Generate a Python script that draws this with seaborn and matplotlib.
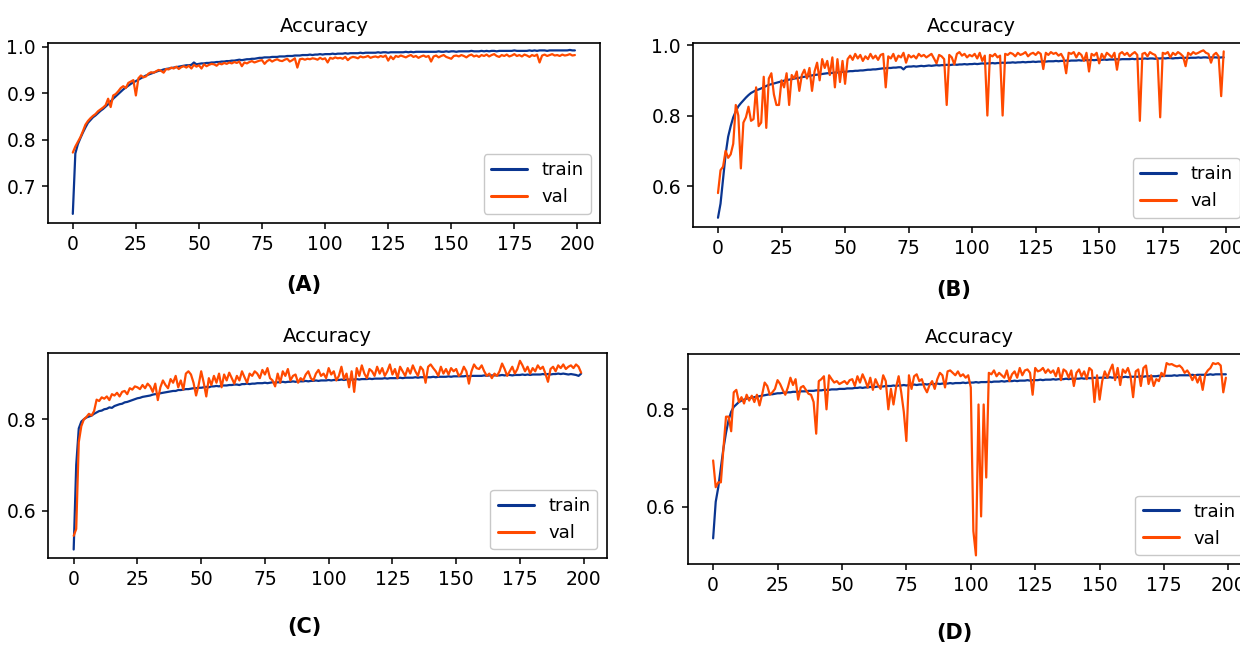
import numpy as np
import pandas as pd
import matplotlib
matplotlib.use("Agg")
import matplotlib.pyplot as plt
import seaborn as sns

# ---------------- data ----------------
epochs = list(range(200))

a_train = [
    0.640, 0.770, 0.790, 0.803, 0.815, 0.826, 0.836, 0.842, 0.848, 0.852,
    0.857, 0.862, 0.866, 0.871, 0.876, 0.882, 0.888, 0.893, 0.898, 0.903,
    0.908, 0.912, 0.916, 0.920, 0.923, 0.926, 0.929, 0.932, 0.935, 0.938,
    0.940, 0.942, 0.944, 0.946, 0.948, 0.949, 0.951, 0.952, 0.953, 0.954,
    0.955, 0.956, 0.957, 0.958, 0.959, 0.960, 0.960, 0.961, 0.966, 0.962,
    0.963, 0.964, 0.964, 0.965, 0.965, 0.966, 0.966, 0.967, 0.967, 0.968,
    0.968, 0.969, 0.969, 0.970, 0.970, 0.971, 0.972, 0.971, 0.972, 0.973,
    0.973, 0.974, 0.974, 0.975, 0.976, 0.976, 0.977, 0.977, 0.977, 0.978,
    0.978, 0.978, 0.979, 0.979, 0.979, 0.980, 0.980, 0.980, 0.981, 0.981,
    0.981, 0.982, 0.982, 0.982, 0.983, 0.982, 0.983, 0.983, 0.984, 0.983,
    0.984, 0.984, 0.984, 0.985, 0.984, 0.985, 0.985, 0.985, 0.986, 0.985,
    0.986, 0.986, 0.986, 0.986, 0.987, 0.986, 0.987, 0.987, 0.987, 0.987,
    0.987, 0.988, 0.987, 0.988, 0.988, 0.987, 0.988, 0.988, 0.988, 0.988,
    0.988, 0.988, 0.989, 0.988, 0.989, 0.988, 0.989, 0.989, 0.989, 0.989,
    0.989, 0.989, 0.989, 0.989, 0.989, 0.990, 0.989, 0.989, 0.990, 0.989,
    0.990, 0.990, 0.989, 0.990, 0.990, 0.990, 0.990, 0.990, 0.991, 0.990,
    0.990, 0.990, 0.991, 0.990, 0.991, 0.990, 0.991, 0.991, 0.990, 0.991,
    0.991, 0.991, 0.991, 0.991, 0.991, 0.992, 0.991, 0.991, 0.991, 0.991,
    0.991, 0.992, 0.991, 0.992, 0.991, 0.992, 0.992, 0.992, 0.991, 0.992,
    0.992, 0.992, 0.992, 0.992, 0.992, 0.992, 0.992, 0.993, 0.992, 0.992,
]
a_val = [
    0.772, 0.785, 0.795, 0.805, 0.818, 0.832, 0.840, 0.846, 0.851, 0.855,
    0.861, 0.865, 0.869, 0.874, 0.888, 0.870, 0.895, 0.898, 0.904, 0.911,
    0.915, 0.911, 0.922, 0.925, 0.928, 0.895, 0.932, 0.938, 0.934, 0.936,
    0.942, 0.945, 0.944, 0.947, 0.950, 0.948, 0.944, 0.952, 0.951, 0.955,
    0.953, 0.957, 0.952, 0.956, 0.958, 0.955, 0.959, 0.953, 0.961, 0.957,
    0.960, 0.953, 0.962, 0.958, 0.961, 0.963, 0.962, 0.959, 0.964, 0.962,
    0.965, 0.963, 0.966, 0.964, 0.967, 0.965, 0.968, 0.958, 0.966, 0.964,
    0.967, 0.969, 0.966, 0.968, 0.970, 0.971, 0.963, 0.969, 0.972, 0.968,
    0.971, 0.973, 0.970, 0.969, 0.972, 0.974, 0.968, 0.971, 0.975, 0.955,
    0.973, 0.974, 0.972, 0.974, 0.973, 0.975, 0.974, 0.972, 0.976, 0.973,
    0.975, 0.966, 0.976, 0.974, 0.977, 0.975, 0.976, 0.974, 0.978, 0.971,
    0.976, 0.978, 0.977, 0.975, 0.979, 0.977, 0.978, 0.980, 0.976, 0.978,
    0.979, 0.977, 0.980, 0.978, 0.981, 0.970, 0.979, 0.973, 0.980, 0.978,
    0.981, 0.979, 0.977, 0.980, 0.982, 0.978, 0.980, 0.976, 0.979, 0.981,
    0.978, 0.980, 0.968, 0.979, 0.981, 0.977, 0.980, 0.982, 0.978, 0.976,
    0.974, 0.980, 0.981, 0.979, 0.982, 0.980, 0.977, 0.981, 0.983, 0.979,
    0.981, 0.978, 0.982, 0.980, 0.983, 0.979, 0.982, 0.984, 0.980, 0.978,
    0.982, 0.980, 0.983, 0.979, 0.981, 0.984, 0.980, 0.982, 0.979, 0.983,
    0.981, 0.978, 0.982, 0.980, 0.983, 0.966, 0.981, 0.983, 0.980, 0.982,
    0.984, 0.981, 0.982, 0.980, 0.983, 0.981, 0.982, 0.984, 0.981, 0.982,
]

b_train = [
    0.510, 0.550, 0.620, 0.690, 0.740, 0.770, 0.795, 0.812, 0.826, 0.835,
    0.843, 0.851, 0.858, 0.864, 0.868, 0.872, 0.874, 0.877, 0.880, 0.884,
    0.887, 0.889, 0.891, 0.893, 0.895, 0.897, 0.899, 0.900, 0.902, 0.903,
    0.905, 0.906, 0.907, 0.909, 0.910, 0.911, 0.912, 0.914, 0.915, 0.916,
    0.917, 0.918, 0.919, 0.920, 0.920, 0.921, 0.922, 0.922, 0.923, 0.924,
    0.924, 0.925, 0.926, 0.926, 0.927, 0.927, 0.928, 0.928, 0.929, 0.930,
    0.930, 0.931, 0.931, 0.932, 0.933, 0.934, 0.934, 0.935, 0.935, 0.936,
    0.936, 0.937, 0.937, 0.931, 0.938, 0.939, 0.939, 0.940, 0.939, 0.940,
    0.941, 0.940, 0.941, 0.942, 0.941, 0.942, 0.943, 0.942, 0.943, 0.943,
    0.944, 0.943, 0.944, 0.945, 0.944, 0.945, 0.945, 0.946, 0.945, 0.946,
    0.946, 0.947, 0.946, 0.947, 0.948, 0.947, 0.948, 0.948, 0.949, 0.948,
    0.949, 0.949, 0.950, 0.949, 0.950, 0.950, 0.951, 0.950, 0.951, 0.951,
    0.952, 0.951, 0.952, 0.952, 0.953, 0.952, 0.953, 0.953, 0.954, 0.953,
    0.954, 0.954, 0.954, 0.955, 0.954, 0.955, 0.955, 0.956, 0.955, 0.956,
    0.956, 0.956, 0.957, 0.956, 0.957, 0.957, 0.957, 0.958, 0.957, 0.958,
    0.958, 0.958, 0.959, 0.958, 0.959, 0.959, 0.959, 0.960, 0.959, 0.960,
    0.960, 0.960, 0.960, 0.961, 0.960, 0.961, 0.961, 0.961, 0.962, 0.961,
    0.962, 0.962, 0.961, 0.962, 0.962, 0.963, 0.962, 0.963, 0.963, 0.962,
    0.963, 0.963, 0.964, 0.963, 0.964, 0.963, 0.964, 0.964, 0.964, 0.965,
    0.964, 0.965, 0.965, 0.964, 0.965, 0.965, 0.965, 0.964, 0.965, 0.965,
]
b_val = [
    0.580, 0.645, 0.655, 0.700, 0.680, 0.690, 0.720, 0.830, 0.800, 0.650,
    0.780, 0.795, 0.825, 0.785, 0.790, 0.880, 0.770, 0.780, 0.910, 0.765,
    0.905, 0.920, 0.860, 0.830, 0.830, 0.900, 0.880, 0.920, 0.830, 0.915,
    0.905, 0.925, 0.870, 0.915, 0.930, 0.905, 0.935, 0.870, 0.925, 0.950,
    0.900, 0.960, 0.935, 0.955, 0.915, 0.965, 0.880, 0.960, 0.895, 0.955,
    0.890, 0.960, 0.970, 0.958, 0.975, 0.962, 0.972, 0.955, 0.968, 0.960,
    0.975, 0.962, 0.970, 0.958, 0.972, 0.975, 0.880, 0.968, 0.962, 0.975,
    0.955, 0.970, 0.965, 0.978, 0.950, 0.972, 0.965, 0.970, 0.962, 0.975,
    0.968, 0.972, 0.965, 0.970, 0.975, 0.962, 0.948, 0.972, 0.968, 0.960,
    0.830, 0.972, 0.965, 0.945, 0.975, 0.980, 0.970, 0.975, 0.965, 0.972,
    0.968, 0.975, 0.962, 0.978, 0.955, 0.970, 0.800, 0.972, 0.968, 0.975,
    0.965, 0.970, 0.800, 0.975, 0.972, 0.978, 0.975, 0.968, 0.978, 0.972,
    0.975, 0.980, 0.968, 0.975, 0.978, 0.972, 0.980, 0.975, 0.932, 0.978,
    0.972, 0.980, 0.975, 0.978, 0.970, 0.975, 0.962, 0.920, 0.978, 0.975,
    0.980, 0.965, 0.978, 0.972, 0.955, 0.978, 0.925, 0.975, 0.970, 0.978,
    0.948, 0.975, 0.962, 0.978, 0.972, 0.965, 0.978, 0.930, 0.975, 0.980,
    0.972, 0.978, 0.968, 0.975, 0.980, 0.972, 0.785, 0.975, 0.978, 0.968,
    0.980, 0.975, 0.972, 0.958, 0.795, 0.978, 0.975, 0.980, 0.965, 0.978,
    0.972, 0.980, 0.975, 0.968, 0.940, 0.978, 0.972, 0.980, 0.975, 0.978,
    0.982, 0.985, 0.978, 0.975, 0.950, 0.972, 0.978, 0.968, 0.855, 0.982,
]

c_train = [
    0.515, 0.700, 0.780, 0.795, 0.800, 0.804, 0.806, 0.808, 0.812, 0.815,
    0.818, 0.819, 0.822, 0.823, 0.826, 0.825, 0.829, 0.831, 0.833, 0.834,
    0.837, 0.838, 0.840, 0.842, 0.844, 0.846, 0.847, 0.849, 0.850, 0.851,
    0.852, 0.854, 0.855, 0.855, 0.857, 0.858, 0.859, 0.860, 0.861, 0.862,
    0.862, 0.864, 0.864, 0.865, 0.866, 0.866, 0.867, 0.868, 0.868, 0.869,
    0.869, 0.870, 0.871, 0.870, 0.872, 0.872, 0.873, 0.872, 0.874, 0.874,
    0.874, 0.875, 0.875, 0.876, 0.876, 0.875, 0.877, 0.877, 0.878, 0.877,
    0.878, 0.878, 0.879, 0.879, 0.879, 0.880, 0.879, 0.880, 0.881, 0.880,
    0.881, 0.881, 0.882, 0.881, 0.882, 0.882, 0.883, 0.882, 0.883, 0.883,
    0.883, 0.884, 0.883, 0.884, 0.884, 0.885, 0.884, 0.885, 0.885, 0.885,
    0.886, 0.885, 0.886, 0.886, 0.886, 0.887, 0.886, 0.887, 0.887, 0.887,
    0.887, 0.888, 0.887, 0.888, 0.888, 0.888, 0.889, 0.888, 0.889, 0.889,
    0.889, 0.889, 0.890, 0.889, 0.890, 0.890, 0.890, 0.890, 0.891, 0.890,
    0.891, 0.891, 0.891, 0.891, 0.892, 0.891, 0.892, 0.892, 0.892, 0.892,
    0.892, 0.893, 0.892, 0.893, 0.893, 0.893, 0.893, 0.894, 0.893, 0.894,
    0.894, 0.894, 0.894, 0.894, 0.895, 0.894, 0.895, 0.895, 0.895, 0.895,
    0.895, 0.896, 0.895, 0.896, 0.896, 0.896, 0.896, 0.896, 0.897, 0.896,
    0.897, 0.897, 0.896, 0.897, 0.897, 0.897, 0.898, 0.897, 0.898, 0.897,
    0.898, 0.898, 0.898, 0.898, 0.899, 0.898, 0.899, 0.898, 0.899, 0.899,
    0.900, 0.899, 0.900, 0.899, 0.898, 0.899, 0.898, 0.897, 0.895, 0.900,
]
c_val = [
    0.545, 0.560, 0.750, 0.785, 0.800, 0.805, 0.812, 0.808, 0.818, 0.843,
    0.840, 0.848, 0.845, 0.850, 0.842, 0.855, 0.852, 0.858, 0.850, 0.860,
    0.862, 0.855, 0.868, 0.865, 0.872, 0.870, 0.866, 0.875, 0.868, 0.878,
    0.872, 0.860, 0.878, 0.842, 0.870, 0.885, 0.875, 0.868, 0.888, 0.880,
    0.895, 0.870, 0.885, 0.865, 0.900, 0.905, 0.898, 0.880, 0.852, 0.875,
    0.905, 0.880, 0.850, 0.890, 0.875, 0.895, 0.880, 0.900, 0.870, 0.898,
    0.885, 0.902, 0.890, 0.878, 0.895, 0.885, 0.905, 0.892, 0.880, 0.900,
    0.895, 0.905, 0.900, 0.890, 0.908, 0.898, 0.912, 0.890, 0.885, 0.872,
    0.900, 0.880, 0.905, 0.895, 0.910, 0.885, 0.895, 0.898, 0.880, 0.890,
    0.885, 0.898, 0.905, 0.890, 0.885, 0.900, 0.908, 0.895, 0.900, 0.890,
    0.912, 0.898, 0.905, 0.885, 0.895, 0.915, 0.888, 0.900, 0.870, 0.905,
    0.860, 0.912, 0.895, 0.918, 0.900, 0.890, 0.910, 0.905, 0.895, 0.915,
    0.900, 0.912, 0.895, 0.905, 0.920, 0.898, 0.910, 0.890, 0.915, 0.905,
    0.895, 0.912, 0.900, 0.918, 0.905, 0.895, 0.915, 0.908, 0.880, 0.915,
    0.920, 0.912, 0.905, 0.895, 0.915, 0.900, 0.910, 0.898, 0.912, 0.905,
    0.910, 0.895, 0.900, 0.915, 0.905, 0.878, 0.905, 0.920, 0.912, 0.910,
    0.918, 0.905, 0.895, 0.900, 0.890, 0.900, 0.895, 0.905, 0.922, 0.910,
    0.895, 0.905, 0.915, 0.900, 0.910, 0.928, 0.918, 0.905, 0.915, 0.900,
    0.912, 0.905, 0.918, 0.910, 0.915, 0.900, 0.882, 0.910, 0.915, 0.905,
    0.918, 0.912, 0.920, 0.910, 0.915, 0.918, 0.912, 0.920, 0.915, 0.902,
]

d_train = [
    0.535, 0.610, 0.640, 0.680, 0.720, 0.752, 0.778, 0.795, 0.805, 0.810,
    0.815, 0.818, 0.820, 0.822, 0.823, 0.824, 0.825, 0.826, 0.827, 0.828,
    0.829, 0.830, 0.831, 0.831, 0.832, 0.833, 0.833, 0.834, 0.834, 0.835,
    0.835, 0.836, 0.836, 0.836, 0.837, 0.837, 0.837, 0.838, 0.838, 0.838,
    0.839, 0.839, 0.839, 0.840, 0.840, 0.840, 0.841, 0.841, 0.841, 0.842,
    0.842, 0.842, 0.843, 0.843, 0.843, 0.844, 0.844, 0.845, 0.844, 0.845,
    0.845, 0.846, 0.846, 0.846, 0.847, 0.847, 0.847, 0.848, 0.848, 0.848,
    0.849, 0.848, 0.849, 0.849, 0.850, 0.849, 0.850, 0.850, 0.851, 0.850,
    0.851, 0.851, 0.852, 0.851, 0.852, 0.852, 0.852, 0.853, 0.852, 0.853,
    0.853, 0.853, 0.854, 0.853, 0.854, 0.854, 0.854, 0.855, 0.854, 0.855,
    0.855, 0.855, 0.856, 0.855, 0.856, 0.856, 0.856, 0.857, 0.856, 0.857,
    0.857, 0.857, 0.858, 0.857, 0.858, 0.858, 0.858, 0.859, 0.858, 0.859,
    0.859, 0.859, 0.860, 0.859, 0.860, 0.860, 0.860, 0.861, 0.860, 0.861,
    0.861, 0.861, 0.862, 0.861, 0.862, 0.862, 0.862, 0.863, 0.862, 0.863,
    0.863, 0.863, 0.863, 0.864, 0.863, 0.864, 0.864, 0.864, 0.865, 0.864,
    0.865, 0.865, 0.865, 0.865, 0.866, 0.865, 0.866, 0.866, 0.866, 0.866,
    0.867, 0.866, 0.867, 0.867, 0.867, 0.867, 0.868, 0.867, 0.868, 0.868,
    0.868, 0.868, 0.868, 0.869, 0.868, 0.869, 0.869, 0.869, 0.869, 0.870,
    0.869, 0.870, 0.870, 0.870, 0.870, 0.870, 0.871, 0.870, 0.871, 0.871,
    0.871, 0.871, 0.871, 0.872, 0.871, 0.872, 0.872, 0.872, 0.872, 0.872,
]
d_val = [
    0.695, 0.640, 0.650, 0.650, 0.720, 0.785, 0.785, 0.755, 0.835, 0.840,
    0.815, 0.825, 0.812, 0.830, 0.818, 0.828, 0.815, 0.830, 0.808, 0.830,
    0.855, 0.848, 0.830, 0.835, 0.842, 0.860, 0.852, 0.840, 0.830, 0.845,
    0.865, 0.850, 0.862, 0.820, 0.845, 0.848, 0.840, 0.832, 0.830, 0.815,
    0.750, 0.858, 0.862, 0.868, 0.800, 0.870, 0.862, 0.855, 0.858, 0.852,
    0.855, 0.858, 0.852, 0.860, 0.862, 0.848, 0.868, 0.855, 0.872, 0.860,
    0.845, 0.865, 0.840, 0.862, 0.850, 0.842, 0.870, 0.858, 0.800, 0.842,
    0.810, 0.845, 0.868, 0.835, 0.795, 0.735, 0.870, 0.842, 0.868, 0.872,
    0.858, 0.862, 0.845, 0.835, 0.850, 0.858, 0.842, 0.862, 0.875, 0.870,
    0.845, 0.878, 0.880, 0.875, 0.870, 0.878, 0.868, 0.872, 0.865, 0.870,
    0.845, 0.550, 0.500, 0.810, 0.580, 0.810, 0.660, 0.875, 0.872, 0.880,
    0.868, 0.875, 0.870, 0.865, 0.880, 0.858, 0.872, 0.878, 0.865, 0.885,
    0.870, 0.880, 0.882, 0.875, 0.830, 0.885, 0.878, 0.880, 0.885, 0.875,
    0.882, 0.875, 0.880, 0.868, 0.885, 0.860, 0.882, 0.878, 0.865, 0.880,
    0.848, 0.875, 0.882, 0.868, 0.878, 0.862, 0.885, 0.880, 0.815, 0.870,
    0.820, 0.858, 0.878, 0.865, 0.880, 0.892, 0.860, 0.885, 0.850, 0.882,
    0.875, 0.885, 0.868, 0.825, 0.878, 0.882, 0.848, 0.885, 0.890, 0.852,
    0.870, 0.848, 0.862, 0.858, 0.875, 0.868, 0.895, 0.892, 0.893, 0.890,
    0.888, 0.890, 0.885, 0.875, 0.880, 0.872, 0.860, 0.870, 0.855, 0.868,
    0.840, 0.872, 0.880, 0.885, 0.895, 0.893, 0.895, 0.890, 0.835, 0.865,
]

panel_labels = ["(A)", "(B)", "(C)", "(D)"]
panel_title = "Accuracy"
series_names = ["train", "val"]
x_ticks = [0, 25, 50, 75, 100, 125, 150, 175, 200]
y_ticks = [[0.7, 0.8, 0.9, 1.0], [0.6, 0.8, 1.0], [0.6, 0.8], [0.6, 0.8]]
y_limits = [(0.621, 1.0086), (0.4846, 1.005), (0.4958, 0.9444), (0.4823, 0.9137)]

# ---------------- style ----------------
sns.set_style("ticks")
plt.rcParams["font.family"] = ["DejaVu Sans"]
plt.rcParams["text.color"] = "black"
plt.rcParams["axes.labelcolor"] = "black"
plt.rcParams["axes.edgecolor"] = "black"
plt.rcParams["axes.linewidth"] = 1.2
plt.rcParams["xtick.color"] = "black"
plt.rcParams["ytick.color"] = "black"
plt.rcParams["xtick.major.size"] = 4.5
plt.rcParams["ytick.major.size"] = 4.5
plt.rcParams["xtick.major.width"] = 1.1
plt.rcParams["ytick.major.width"] = 1.1

W, H = 1240, 646
fig = plt.figure(figsize=(W / 100, H / 100), dpi=100)
fig.patch.set_facecolor("white")

# axes boxes in pixels (left, top, right, bottom)
boxes = [
    (47.7, 42.7, 600.0, 222.7),
    (692.7, 43.3, 1249.0, 226.7),
    (48.3, 353.3, 606.5, 558.3),
    (687.5, 354.0, 1251.5, 564.0),
]
label_pos = [(304, 285), (954, 290), (304, 627), (954, 633)]

train_color = "#0A3590"
val_color = "#FF4A00"

panels = [(a_train, a_val), (b_train, b_val), (c_train, c_val), (d_train, d_val)]

for i, ((tr, va), (l, t, r, b)) in enumerate(zip(panels, boxes)):
    ax = fig.add_axes([l / W, 1 - b / H, (r - l) / W, (b - t) / H])
    df = pd.DataFrame({
        "epoch": epochs + epochs,
        "acc": tr + va,
        "set": [series_names[0]] * len(tr) + [series_names[1]] * len(va),
    })
    sns.lineplot(data=df, x="epoch", y="acc", hue="set",
                 palette={series_names[0]: train_color, series_names[1]: val_color},
                 linewidth=1.6, ax=ax)
    ax.set_xlim(-9.95, 208.95)
    ax.set_ylim(*y_limits[i])
    ax.set_xticks(x_ticks)
    ax.set_yticks(y_ticks[i])
    ax.set_yticklabels([f"{v:.1f}" for v in y_ticks[i]])
    ax.set_xlabel("")
    ax.set_ylabel("")
    ax.tick_params(labelsize=13.5, pad=4, labelcolor="black")
    for s in ax.spines.values():
        s.set_visible(True)
    ax.set_title(panel_title, fontsize=14, pad=8, color="black")
    leg = ax.legend(loc="lower right", fontsize=13, frameon=True, fancybox=True,
                    framealpha=0.8, edgecolor="#bbbbbb", handlelength=2.0)
    for txt in leg.get_texts():
        txt.set_color("black")
    for ln in leg.get_lines():
        ln.set_linewidth(2.2)
    fx, fy = label_pos[i]
    fig.text(fx / W, 1 - fy / H, panel_labels[i], ha="center", va="center",
             fontsize=15, fontweight="bold", color="black")

fig.savefig("out.png", dpi=100, facecolor="white")
